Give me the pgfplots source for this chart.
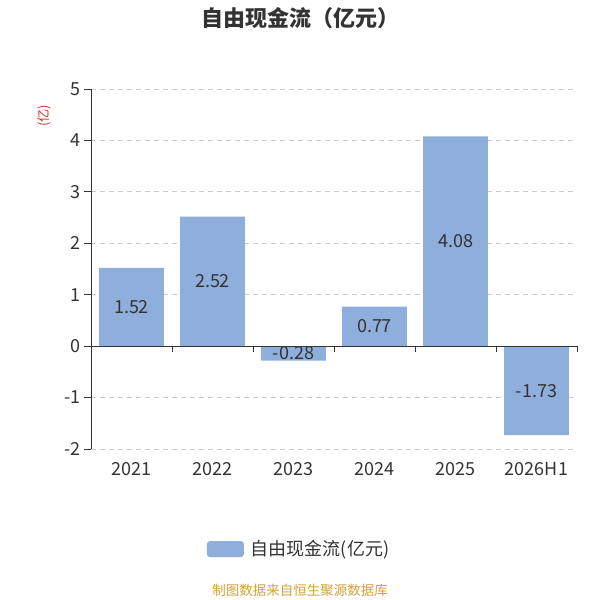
\documentclass[border=0pt]{standalone}
\usepackage{fontspec}
\setmainfont{Noto Sans CJK SC}
\usepackage{pgfplots}
\pgfplotsset{compat=1.18}
\usepackage{pgfplotstable}
\definecolor{barc}{HTML}{8EAEDC}
\definecolor{txt}{HTML}{333333}
\definecolor{gridc}{HTML}{CCCCCC}
\definecolor{foot}{HTML}{D4A13A}
\definecolor{ylab}{HTML}{C0392B}

\pgfplotstableread{
x y lab
0 1.52 1.52
1 2.52 2.52
2 -0.28 -0.28
3 0.77 0.77
4 4.08 4.08
5 -1.73 -1.73
}\data

\begin{document}
\begin{tikzpicture}[x=1pt,y=1pt]
\useasboundingbox (0,0) rectangle (600,600);
\begin{axis}[
 at={(91pt,151pt)}, anchor=south west,
 width=486pt, height=360pt, scale only axis,
 xmin=-0.5, xmax=5.5, ymin=-2, ymax=5,
 axis y line*=left, axis x line*=bottom,
 x axis line style={draw=none},
 y axis line style={draw=txt, line width=0.8pt, -},
 xtick={0,...,5}, xticklabels={2021,2022,2023,2024,2025,2026H1},
 x tick style={draw=none},
 ytick={-2,...,5}, yticklabels={-2,-1,0,1,2,3,4,5},
 y tick style={draw=txt, line width=0.8pt},
 tick align=outside, major tick length=7pt,
 ticklabel style={font=\fontsize{18}{21}\selectfont, text=txt},
 xticklabel style={yshift=-3pt},
 yticklabel style={inner sep=2pt, xshift=-1pt},
 ymajorgrids, grid style={gridc, dash pattern=on 5pt off 4pt, line width=0.8pt},
 legend style={at={(axis description cs:0.428,-0.278)}, anchor=center, draw=none,
   font=\fontsize{18}{21}\selectfont, text=txt},
 legend image code/.code={\fill[barc, rounded corners=3pt] (0pt,-8pt) rectangle (37pt,8pt);},
 clip=false,
]
\addplot[ybar, bar width=0.8, fill=barc, draw=none] table[x=x,y=y]{\data};
\addlegendentry{\hspace{5pt}自由现金流(亿元)}
\addplot[draw=none, mark=none, forget plot, nodes near coords, point meta=explicit symbolic,
  nodes near coords style={anchor=center, font=\fontsize{18}{21}\selectfont, text=txt}]
  table[x=x, y expr=\thisrow{y}/2, meta=lab]{\data};
\draw[txt, line width=0.8pt] (axis cs:-0.5,0) -- (axis cs:5.5,0);
\pgfplotsinvokeforeach{-0.5,0.5,1.5,2.5,3.5,4.5,5.5}{
  \draw[txt, line width=0.8pt] (axis cs:#1,0) -- ++(0pt,-6pt);
}
\end{axis}
\node[font=\fontsize{22}{26}\selectfont\bfseries, text=txt] at (300,582) {自由现金流（亿元）};
\node[rotate=90, font=\fontsize{13}{15}\selectfont, text=ylab] at (44,484) {(亿)};
\node[font=\fontsize{13.5}{16}\selectfont, text=foot] at (300,10) {制图数据来自恒生聚源数据库};
\end{tikzpicture}
\end{document}
